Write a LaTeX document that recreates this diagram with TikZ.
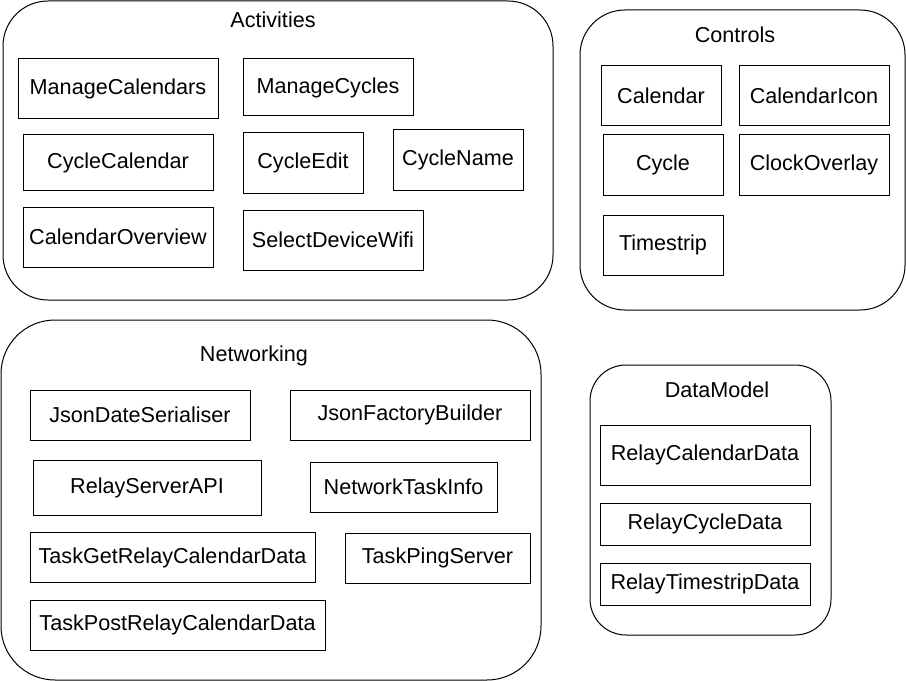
\documentclass[tikz,border=0pt]{standalone}
\usepackage{fontspec}
\setmainfont{Liberation Sans}
\begin{document}
\begin{tikzpicture}[x=0.75pt,y=-0.75pt,
  every node/.style={font=\fontsize{16.2pt}{18pt}\selectfont, inner sep=0pt, outer sep=0pt},
  bx/.style={draw=black, line width=0.75pt, fill=white},
  grp/.style={draw=black, line width=0.75pt, fill=white},
  ttl/.style={anchor=center}]
\useasboundingbox (0,0) rectangle (906,681);
% containers
\node[grp, rounded corners=33.75pt, minimum width=412.5pt, minimum height=224.25pt] (activities) at (278,150.5) {};
\node[grp, rounded corners=33.75pt, minimum width=243.75pt, minimum height=225pt] (controls) at (742.5,160) {};
\node[grp, rounded corners=40.5pt, minimum width=405pt, minimum height=270pt] (networking) at (271,500) {};
\node[grp, rounded corners=27pt, minimum width=180.75pt, minimum height=202.5pt] (datamodel) at (710.5,500) {};
% titles
\node[ttl] (tact) at (273,20) {Activities};
\node[ttl] (tctl) at (735,35) {Controls};
\node[ttl] (tnet) at (254,356) {Networking};
\node[ttl] (tdm) at (717,390) {DataModel};
% Activities
\node[bx, minimum width=150pt, minimum height=45pt] (mcal) at (118,89) {ManageCalendars};
\node[bx, minimum width=127.5pt, minimum height=42.75pt] (mcyc) at (328,87.5) {ManageCycles};
\node[bx, minimum width=142.5pt, minimum height=41.25pt] (ccal) at (118,162.5) {CycleCalendar};
\node[bx, minimum width=90pt, minimum height=45pt] (cedit) at (303,163) {CycleEdit};
\node[bx, minimum width=97.5pt, minimum height=45pt] (cname) at (458,160) {CycleName};
\node[bx, minimum width=142.5pt, minimum height=45pt] (cover) at (118,237) {CalendarOverview};
\node[bx, minimum width=135pt, minimum height=45pt] (sdw) at (333,240) {SelectDeviceWifi};
% Controls
\node[bx, minimum width=90pt, minimum height=45pt] (calendar) at (661,96) {Calendar};
\node[bx, minimum width=112.5pt, minimum height=45pt] (calicon) at (814,96) {CalendarIcon};
\node[bx, minimum width=90pt, minimum height=45pt] (cycle) at (663,165) {Cycle};
\node[bx, minimum width=112.5pt, minimum height=45pt] (clock) at (814,165) {ClockOverlay};
\node[bx, minimum width=90pt, minimum height=45pt] (tstrip) at (663,245) {Timestrip};
% Networking
\node[bx, minimum width=165pt, minimum height=37.5pt] (jds) at (140,415) {JsonDateSerialiser};
\node[bx, minimum width=180pt, minimum height=37.5pt] (jfb) at (410,415) {JsonFactoryBuilder};
\node[bx, minimum width=171pt, minimum height=41.25pt] (rsa) at (147,487.5) {RelayServerAPI};
\node[bx, minimum width=140.25pt, minimum height=37.5pt] (nti) at (403.5,487) {NetworkTaskInfo};
\node[bx, minimum width=213.75pt, minimum height=37.5pt] (tgr) at (172.5,557.5) {TaskGetRelayCalendarData};
\node[bx, minimum width=138.75pt, minimum height=37.5pt] (tps) at (437.5,558) {TaskPingServer};
\node[bx, minimum width=221.25pt, minimum height=37.5pt] (tpr) at (177.5,625) {TaskPostRelayCalendarData};
% DataModel
\node[bx, minimum width=157.5pt, minimum height=45pt] (rcd) at (705,455) {RelayCalendarData};
\node[bx, minimum width=157.5pt, minimum height=31.5pt] (rcyd) at (705,524) {RelayCycleData};
\node[bx, minimum width=157.5pt, minimum height=31.5pt] (rtd) at (705,584) {RelayTimestripData};
\end{tikzpicture}
\end{document}
